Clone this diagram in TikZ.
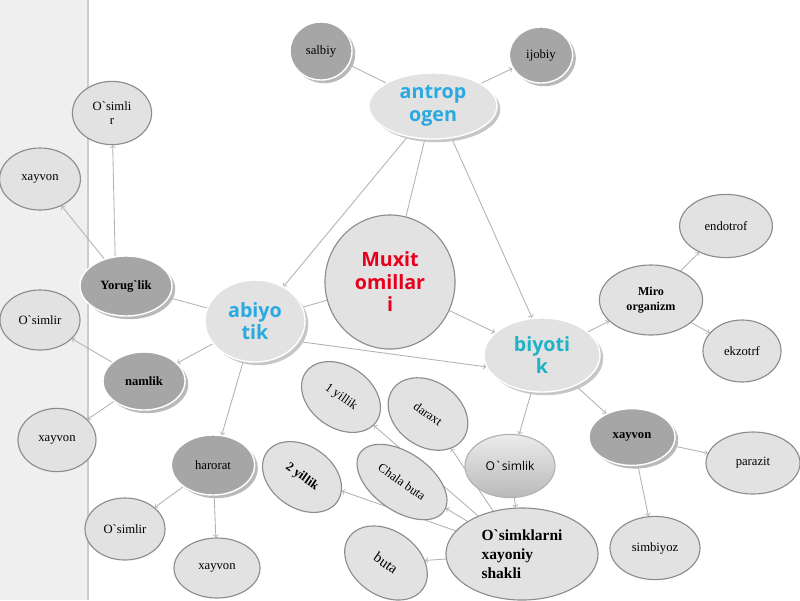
\documentclass[tikz,border=0pt]{standalone}
\usepackage{fontspec}
\setmainfont{Liberation Serif}
\newfontfamily\titlefont{Open Sans}
\usepackage{tikz}
\usetikzlibrary{shapes.geometric,shadows}
\pgfdeclarelayer{back}
\pgfsetlayers{back,main}
\definecolor{nodefill}{HTML}{E2E2E2}
\definecolor{darkfill}{HTML}{A6A6A6}
\definecolor{rimgray}{HTML}{8C8C8C}
\definecolor{abiblue}{HTML}{29A9E1}
\definecolor{biyteal}{HTML}{22B2C6}
\definecolor{muxred}{HTML}{E6001E}
\definecolor{bandgray}{HTML}{EFEFEF}
\newcommand{\ovalfont}{\fontsize{9}{10.5}\selectfont}
\newcommand{\keyfont}{\titlefont\bfseries\fontsize{14}{16}\selectfont}
\newcommand{\tk}{\textasciigrave}
\tikzstyle{oval} = [ellipse, draw=rimgray, fill=nodefill, line width=0.8pt, inner sep=0pt, align=center, font=\ovalfont]
\tikzstyle{darkoval} = [oval, draw=white, line width=1pt, fill=darkfill, drop shadow={shadow xshift=0.08cm, shadow yshift=-0.08cm, fill=gray!55, opacity=1}]
\tikzstyle{keyoval} = [oval, draw=white, line width=1pt, drop shadow={shadow xshift=0.08cm, shadow yshift=-0.08cm, fill=gray!45, opacity=1}, font=\keyfont]
\tikzstyle{tilted} = [oval, rotate=-35, minimum width=2.15cm, minimum height=1.55cm]
\tikzstyle{connect0} = [draw=gray!60, line width=0.6pt]
\tikzstyle{connect1} = [connect0, ->]

\begin{document}
\begin{tikzpicture}[x=0.025cm, y=-0.025cm]
			% background and left band
			\useasboundingbox (0,0) rectangle (800,600);
			\begin{pgfonlayer}{back}
			\fill [white] (0,0) rectangle (800,600);
			\fill [bandgray] (0,0) rectangle (88,600);
			\draw [gray!40, line width=0.8pt] (88,0) -- (88,600);
			\end{pgfonlayer}

			% main nodes
			\node (muxit) [oval, minimum width=3.25cm, minimum height=3.35cm, font=\keyfont, text=muxred] at (390,282) {Muxit\\omillar\\i};
			\node (antropogen) [keyoval, minimum width=3.2cm, minimum height=1.65cm, text=abiblue] at (433,106) {antrop\\ogen};
			\node (abiyotik) [keyoval, minimum width=2.5cm, minimum height=2.05cm, text=abiblue] at (255,321) {abiyo\\tik};
			\node (biyotik) [keyoval, minimum width=2.9cm, minimum height=1.85cm, text=biyteal] at (542,355) {biyoti\\k};

			% antropogen
			\node (salbiy) [darkoval, minimum width=1.55cm, minimum height=1.45cm] at (321,51) {salbiy};
			\node (ijobiy) [darkoval, minimum width=1.58cm, minimum height=1.4cm] at (541,55) {ijobiy};

			% abiyotik
			\node (yorug) [darkoval, minimum width=2.3cm, minimum height=1.5cm, font=\ovalfont\bfseries] at (126,286) {Yorug\tk lik};
			\node (namlik) [darkoval, minimum width=2.05cm, minimum height=1.45cm, font=\ovalfont\bfseries] at (144,381) {namlik};
			\node (harorat) [darkoval, minimum width=2.08cm, minimum height=1.5cm] at (213,465) {harorat};
			\node (osimlir1) [oval, minimum width=1.98cm, minimum height=1.58cm] at (112,113) {O\tk simli\\r};
			\node (xayvon1) [oval, minimum width=2.02cm, minimum height=1.55cm] at (40,179) {xayvon};
			\node (osimlir2) [oval, minimum width=2cm, minimum height=1.5cm] at (40,320) {O\tk simlir};
			\node (xayvon2) [oval, minimum width=1.95cm, minimum height=1.58cm] at (57,440) {xayvon};
			\node (osimlir3) [oval, minimum width=2cm, minimum height=1.55cm] at (125,529) {O\tk simlir};
			\node (xayvon3) [oval, minimum width=2.15cm, minimum height=1.5cm] at (217,568) {xayvon};

			% biyotik
			\node (miro) [oval, minimum width=2.58cm, minimum height=1.75cm, font=\fontsize{8.6}{10.5}\selectfont\bfseries] at (651,300) {Miro\\organizm};
			\node (endotrof) [oval, minimum width=2.32cm, minimum height=1.58cm] at (726,226) {endotrof};
			\node (ekzotrf) [oval, minimum width=1.95cm, minimum height=1.55cm] at (742,351) {ekzotrf};
			\node (xayvon4) [darkoval, minimum width=2.15cm, minimum height=1.42cm, font=\ovalfont\bfseries] at (632,437) {xayvon};
			\node (parazit) [oval, minimum width=2.35cm, minimum height=1.55cm] at (753,463) {parazit};
			\node (simbiyoz) [oval, minimum width=2.25cm, minimum height=1.58cm] at (655,548) {simbiyoz};
			\node (osimlik) [oval, draw=gray!60, top color=gray!15, bottom color=gray!55, minimum width=2.25cm, minimum height=1.58cm, font=\titlefont\fontsize{8.6}{10}\selectfont] at (510,466) {O\tk simlik};

			% hayotiy shakllar
			\node (shakli) [oval, minimum width=3.8cm, minimum height=2.3cm, align=left, font=\fontsize{11}{13.5}\selectfont\bfseries] at (522,554) {O\tk simklarni\\xayoniy\\shakli};
			\node (yillik1) [tilted] at (341,397) {1 yillik};
			\node (daraxt) [tilted, minimum width=2.15cm, minimum height=1.62cm] at (428,414) {daraxt};
			\node (chala) [tilted, minimum width=2.55cm, minimum height=1.45cm] at (402,482) {Chala buta};
			\node (yillik2) [tilted, font=\ovalfont\bfseries] at (302,477) {2 yillik};
			\node (buta) [tilted, minimum width=2.25cm, minimum height=1.62cm, font=\fontsize{10.5}{12}\selectfont] at (386,563) {buta};

			% connectors (behind the nodes)
			\begin{pgfonlayer}{back}
			\draw [connect0] (antropogen) -- (salbiy);
			\draw [connect1] (antropogen) -- (ijobiy);
			\draw [connect1] (antropogen) -- (abiyotik);
			\draw [connect0] (antropogen) -- (muxit);
			\draw [connect1] (antropogen.-60) -- (biyotik.105);
			\draw [connect0] (muxit) -- (abiyotik);
			\draw [connect1] (muxit) -- (biyotik);
			\draw [connect1] (abiyotik.-25) -- (biyotik.192);
			\draw [connect0] (abiyotik) -- (yorug);
			\draw [connect1] (abiyotik) -- (namlik);
			\draw [connect1] (abiyotik) -- (harorat);
			\draw [connect1] (yorug.110) -- (osimlir1);
			\draw [connect1] (yorug) -- (xayvon1);
			\draw [connect1] (namlik) -- (osimlir2);
			\draw [connect1] (namlik) -- (xayvon2);
			\draw [connect1] (harorat) -- (osimlir3);
			\draw [connect1] (harorat) -- (xayvon3);
			\draw [connect1] (biyotik) -- (miro);
			\draw [connect1] (miro) -- (endotrof);
			\draw [connect1] (miro) -- (ekzotrf);
			\draw [connect1] (biyotik) -- (osimlik);
			\draw [connect1] (biyotik) -- (xayvon4);
			\draw [connect1] (xayvon4) -- (parazit);
			\draw [connect1] (xayvon4) -- (simbiyoz);
			\draw [connect1] (osimlik) -- (shakli);
			\draw [connect1] (shakli) -- (yillik1);
			\draw [connect1] (shakli) -- (daraxt);
			\draw [connect1] (shakli) -- (chala);
			\draw [connect1] (shakli) -- (yillik2);
			\draw [connect1] (shakli) -- (buta);
			\end{pgfonlayer}
		\end{tikzpicture}
\end{document}
